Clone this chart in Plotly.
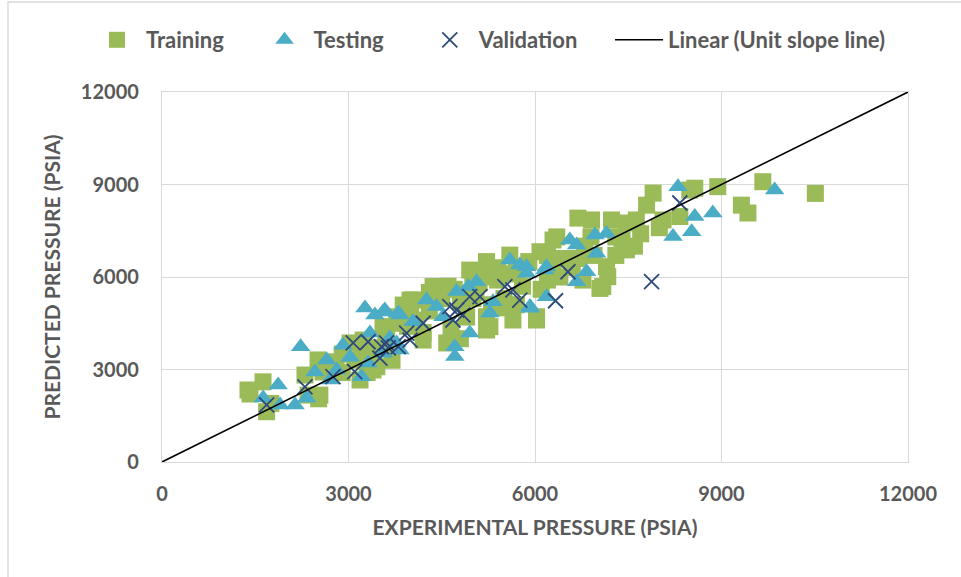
import plotly.graph_objects as go

# Training (green squares)
train_x = [1383, 1415, 1625, 1683, 1750, 2350, 2540, 2520, 2300, 2510, 2590, 2650, 2800, 2900, 3025, 3185, 3300, 3395,
           3455, 3235, 3400, 3555, 3615, 3700, 3775, 3880, 3950, 3990, 4040, 4100, 4200, 4300, 4360, 4415, 4500, 4580,
           4650, 4700, 4800, 4900, 4950, 5000, 5050, 5100, 5220, 5220, 5220, 5275, 5300, 5400, 5500, 5595, 5645, 5700,
           5800, 5900, 6025, 6025, 6080, 6100, 6200, 6290, 6290, 6350, 6400, 6500, 6600, 6690, 6770, 6800, 6910, 6950,
           7045, 7090, 7150, 7170, 7230, 7300, 7470, 7470, 7630, 7700, 7795, 7900, 8000, 8060, 8330, 8490, 8570, 8940,
           9320, 9425, 9665, 10510, 3100, 3600, 4200, 4800, 5600, 6300,
           4300, 4600, 5200, 5400, 5000, 4000, 3800, 6700, 6900, 7400, 7600, 7300, 6200, 5800, 5500, 5700, 3400, 2900,
           3200]
train_y = [2335, 2205, 2600, 1630, 1900, 2170, 2170, 2050, 2820, 3310, 2920, 3100, 3250, 3500, 3860, 2660, 2900, 2985,
           3090, 3955, 3700, 4390, 4280, 3300, 4710, 5090, 4400, 5254, 5254, 4600, 3955, 4900, 5690, 5690, 5300, 3860,
           4300, 5600, 4000, 4700, 6225, 6100, 5500, 5800, 6500, 4710, 4280, 4390, 5100, 5900, 5300, 6710, 4605, 6200,
           5700, 6500, 4605, 4710, 6820, 5600, 5900, 7200, 6450, 7300, 6000, 6600, 6300, 7910, 5900, 7000, 7850, 6700,
           5630, 5690, 6335, 6010, 7850, 7300, 7750, 6880, 7850, 7400, 8330, 8720, 7600, 7850, 7960, 8820, 8880, 8930,
           8330, 8075, 9090, 8710, 3300, 3800, 4200, 5200, 6100, 6600,
           5500, 5700, 6000, 6300, 5300, 4800, 4500, 6600, 7300, 7200, 7000, 6700, 6700, 6300, 5000, 5100, 3300, 2900,
           3500]

# Testing (teal triangles)
test_x = [1627, 1868, 1900, 2140, 2230, 2327, 2460, 2650, 2700, 2810, 2910, 3025, 3210, 3265, 3315, 3345, 3425, 3555,
          3555, 3585, 3665, 3775, 3800, 3827, 3827, 4040, 4255, 4415, 4520, 4710, 4710, 4740, 4925, 4950, 5060, 5275,
          5325, 5595, 5755, 5865, 5865, 5920, 5920, 6160, 6185, 6185, 6560, 6670, 6670, 6830, 6965, 6990, 7150, 8220,
          8300, 8520, 8570, 8860, 9855]
test_y = [2075, 2497, 1850, 1850, 3740, 2075, 2920, 3310, 2660, 2985, 3790, 3400, 2767, 4994, 3210, 4180, 4770, 4866,
          3530, 4930, 4020, 3860, 4830, 3630, 4770, 4550, 5254, 5040, 4710, 3740, 3420, 5530, 5690, 4180, 5850, 4830,
          5200, 6550, 6390, 6120, 6335, 4990, 5040, 6225, 6335, 5360, 7200, 7040, 5850, 6170, 7360, 6770, 7410, 7310,
          8930, 7470, 7960, 8075, 8820]

# Validation (dark blue crosses)
val_x = [1683, 2300, 2750, 3075, 3100, 3315, 3505, 3530, 3610, 3640, 3800, 3935, 3990, 4200, 4630, 4680, 4740, 4840,
         4950, 5115, 5515, 5645, 5755, 6330, 6530, 7875, 8330]
val_y = [1850, 2440, 2767, 3860, 2930, 3900, 3370, 3740, 3860, 3700, 3740, 4180, 3955, 4500, 5040, 4605, 4930, 4770,
         5360, 5360, 5690, 5580, 5250, 5230, 6170, 5850, 8400]

# Unit slope line
line_x = [0, 12000]
line_y = [0, 12000]
tick_vals = [0, 3000, 6000, 9000, 12000]
tick_text = ["0", "3000", "6000", "9000", "12000"]

FONT = "Lato, 'Open Sans', sans-serif"
GRAY = "#595959"
GRID = "#d9d9d9"
PAD = "\u00a0"

fig = go.Figure()
fig.add_trace(go.Scatter(x=train_x, y=train_y, mode="markers", name="Training" + PAD * 5,
                         marker=dict(symbol="square", size=17, color="#9BBB59")))
fig.add_trace(go.Scatter(x=test_x, y=test_y, mode="markers", name="Testing" + PAD * 6,
                         marker=dict(symbol="triangle-up", size=17, color="#4BACC6")))
fig.add_trace(go.Scatter(x=val_x, y=val_y, mode="markers", name="Validation" + PAD * 5,
                         marker=dict(symbol="x-thin", size=15, color="#1F3864",
                                     line=dict(width=1.8, color="#2E4A7A"))))
fig.add_trace(go.Scatter(x=line_x, y=line_y, mode="lines", name="Linear (Unit slope line)",
                         line=dict(color="black", width=1.6)))

axis_common = dict(range=[0, 12000], tickvals=tick_vals, ticktext=tick_text, showgrid=True,
                   gridcolor=GRID, gridwidth=1.3, zeroline=False, showline=True, linecolor=GRID,
                   linewidth=1.3, mirror=True, ticks="outside", tickcolor="rgba(0,0,0,0)",
                   tickfont=dict(family=FONT, size=20, color=GRAY, weight="bold"), fixedrange=True)

fig.update_layout(
    width=961, height=577,
    margin=dict(l=162, r=53, t=92, b=115, autoexpand=False),
    paper_bgcolor="white", plot_bgcolor="white",
    xaxis=dict(**axis_common, ticklen=14,
               title=dict(text="EXPERIMENTAL PRESSURE (PSIA)", standoff=16,
                          font=dict(family=FONT, size=21, color=GRAY, weight="bold"))),
    yaxis=dict(**axis_common, ticklen=18,
               title=dict(text="PREDICTED PRESSURE (PSIA)", standoff=14,
                          font=dict(family=FONT, size=21, color=GRAY, weight="bold"))),
    legend=dict(orientation="h", x=(88 - 162) / 746, xanchor="left",
                y=(462 - 40) / 370, yanchor="middle",
                font=dict(family=FONT, size=22, color=GRAY, weight="bold"),
                itemwidth=48, tracegroupgap=0, bgcolor="rgba(0,0,0,0)"),
    showlegend=True,
)

fig.add_shape(type="rect", xref="paper", yref="paper",
              x0=(8 - 162) / 746, x1=(968 - 162) / 746,
              y0=(462 - 590) / 370, y1=(462 - 2) / 370,
              line=dict(color=GRID, width=1.3), fillcolor="rgba(0,0,0,0)", layer="below")

fig.write_html("out.html")
